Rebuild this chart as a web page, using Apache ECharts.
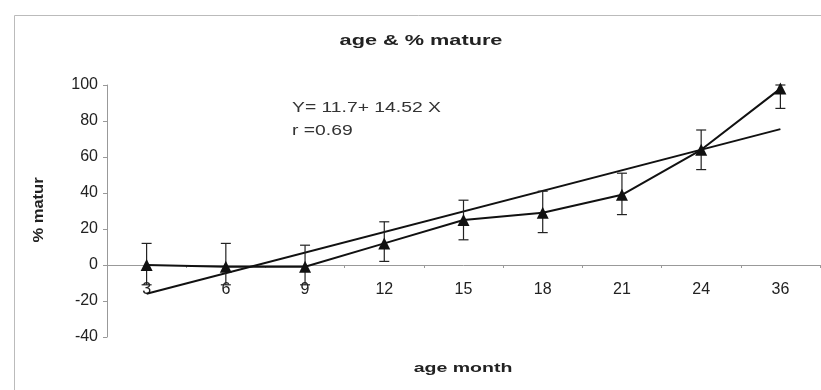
<!DOCTYPE html>
<html>
<head>
<meta charset="utf-8">
<script src="https://cdn.jsdelivr.net/npm/echarts@6/dist/echarts.min.js"></script>
<style>html,body{margin:0;padding:0;background:#fff}#c{width:821px;height:390px}</style>
</head>
<body>
<div id="c"></div>
<script>
const categories = ['3','6','9','12','15','18','21','24','36'];
const mature = [0, -1, -1, 12, 25, 29, 39, 64, 98];
const errLow = [-11, -11, -11, 2, 14, 18, 28, 53, 87];
const errHigh = [12, 12, 11, 24, 36, 41, 51, 75, 100];
const trend = [-16, null, null, null, null, null, null, null, 75.5];
const yTicks = {min: -40, max: 100, step: 20};
const titleText = 'age & % mature';
const eqLine1 = 'Y= 11.7+ 14.52 X';
const eqLine2 = 'r =0.69';
const xName = 'age month';
const yName = '% matur';

const F = '"Liberation Sans", Arial, sans-serif';
const chart = echarts.init(document.getElementById('c'));
const errData = categories.map((c, i) => [i, errLow[i], errHigh[i]]);

const gridTop = 85, gridBottom = 53, H = 390;
const plotH = H - gridTop - gridBottom;
const zeroOffset = plotH * (0 - yTicks.min) / (yTicks.max - yTicks.min);

chart.setOption({
  animation: false,
  backgroundColor: '#fff',
  grid: {left: 107, right: 1, top: gridTop, bottom: gridBottom, containLabel: false, outerBoundsMode: 'none'},
  xAxis: {
    type: 'category', data: categories, boundaryGap: true, position: 'bottom',
    offset: -zeroOffset,
    axisLine: {onZero: false, lineStyle: {color: '#999', width: 1}},
    axisTick: {show: true, length: 3, lineStyle: {color: '#999'}},
    axisLabel: {margin: 17, fontFamily: F, fontSize: 16, color: '#222'},
    splitLine: {show: false}
  },
  yAxis: {
    type: 'value', min: yTicks.min, max: yTicks.max, interval: yTicks.step,
    axisLine: {show: true, lineStyle: {color: '#999', width: 1}},
    axisTick: {show: true, length: 4, lineStyle: {color: '#999'}},
    axisLabel: {margin: 9, fontFamily: F, fontSize: 16, color: '#222'},
    splitLine: {show: false}
  },
  graphic: [
    {type: 'rect', left: 12, top: 13, z: -1, silent: true,
     shape: {width: 808, height: 375}, style: {fill: 'none', stroke: '#bbb', lineWidth: 1}},
    {type: 'text', x: 421, y: 41, scaleX: 1.55,
     style: {text: titleText, font: 'bold 14px ' + F, fill: '#222', align: 'center', verticalAlign: 'middle'}},
    {type: 'text', x: 292, y: 108, scaleX: 1.38,
     style: {text: eqLine1, font: '14px ' + F, fill: '#333', align: 'left', verticalAlign: 'middle'}},
    {type: 'text', x: 292, y: 131, scaleX: 1.38,
     style: {text: eqLine2, font: '14px ' + F, fill: '#333', align: 'left', verticalAlign: 'middle'}},
    {type: 'text', x: 463, y: 368, scaleX: 1.5,
     style: {text: xName, font: 'bold 13px ' + F, fill: '#222', align: 'center', verticalAlign: 'middle'}},
    {type: 'text', x: 39, y: 210, rotation: Math.PI / 2, scaleX: 1.18,
     style: {text: yName, font: 'bold 14px ' + F, fill: '#222', align: 'center', verticalAlign: 'middle'}}
  ],
  series: [
    {
      type: 'line', data: trend, connectNulls: true, symbol: 'none',
      lineStyle: {color: '#111', width: 2}, z: 2
    },
    {
      type: 'custom', data: errData, z: 3,
      renderItem: function (params, api) {
        const x = api.value(0);
        const lo = api.coord([x, api.value(1)]);
        const hi = api.coord([x, api.value(2)]);
        const w = 5;
        const st = {stroke: '#222', lineWidth: 1.2};
        return {type: 'group', children: [
          {type: 'line', shape: {x1: lo[0], y1: lo[1], x2: hi[0], y2: hi[1]}, style: st},
          {type: 'line', shape: {x1: lo[0]-w, y1: lo[1], x2: lo[0]+w, y2: lo[1]}, style: st},
          {type: 'line', shape: {x1: hi[0]-w, y1: hi[1], x2: hi[0]+w, y2: hi[1]}, style: st}
        ]};
      }
    },
    {
      type: 'line', data: mature, symbol: 'triangle', symbolSize: 12,
      itemStyle: {color: '#111'}, lineStyle: {color: '#111', width: 2}, z: 4
    }
  ]
});
</script>
</body>
</html>
